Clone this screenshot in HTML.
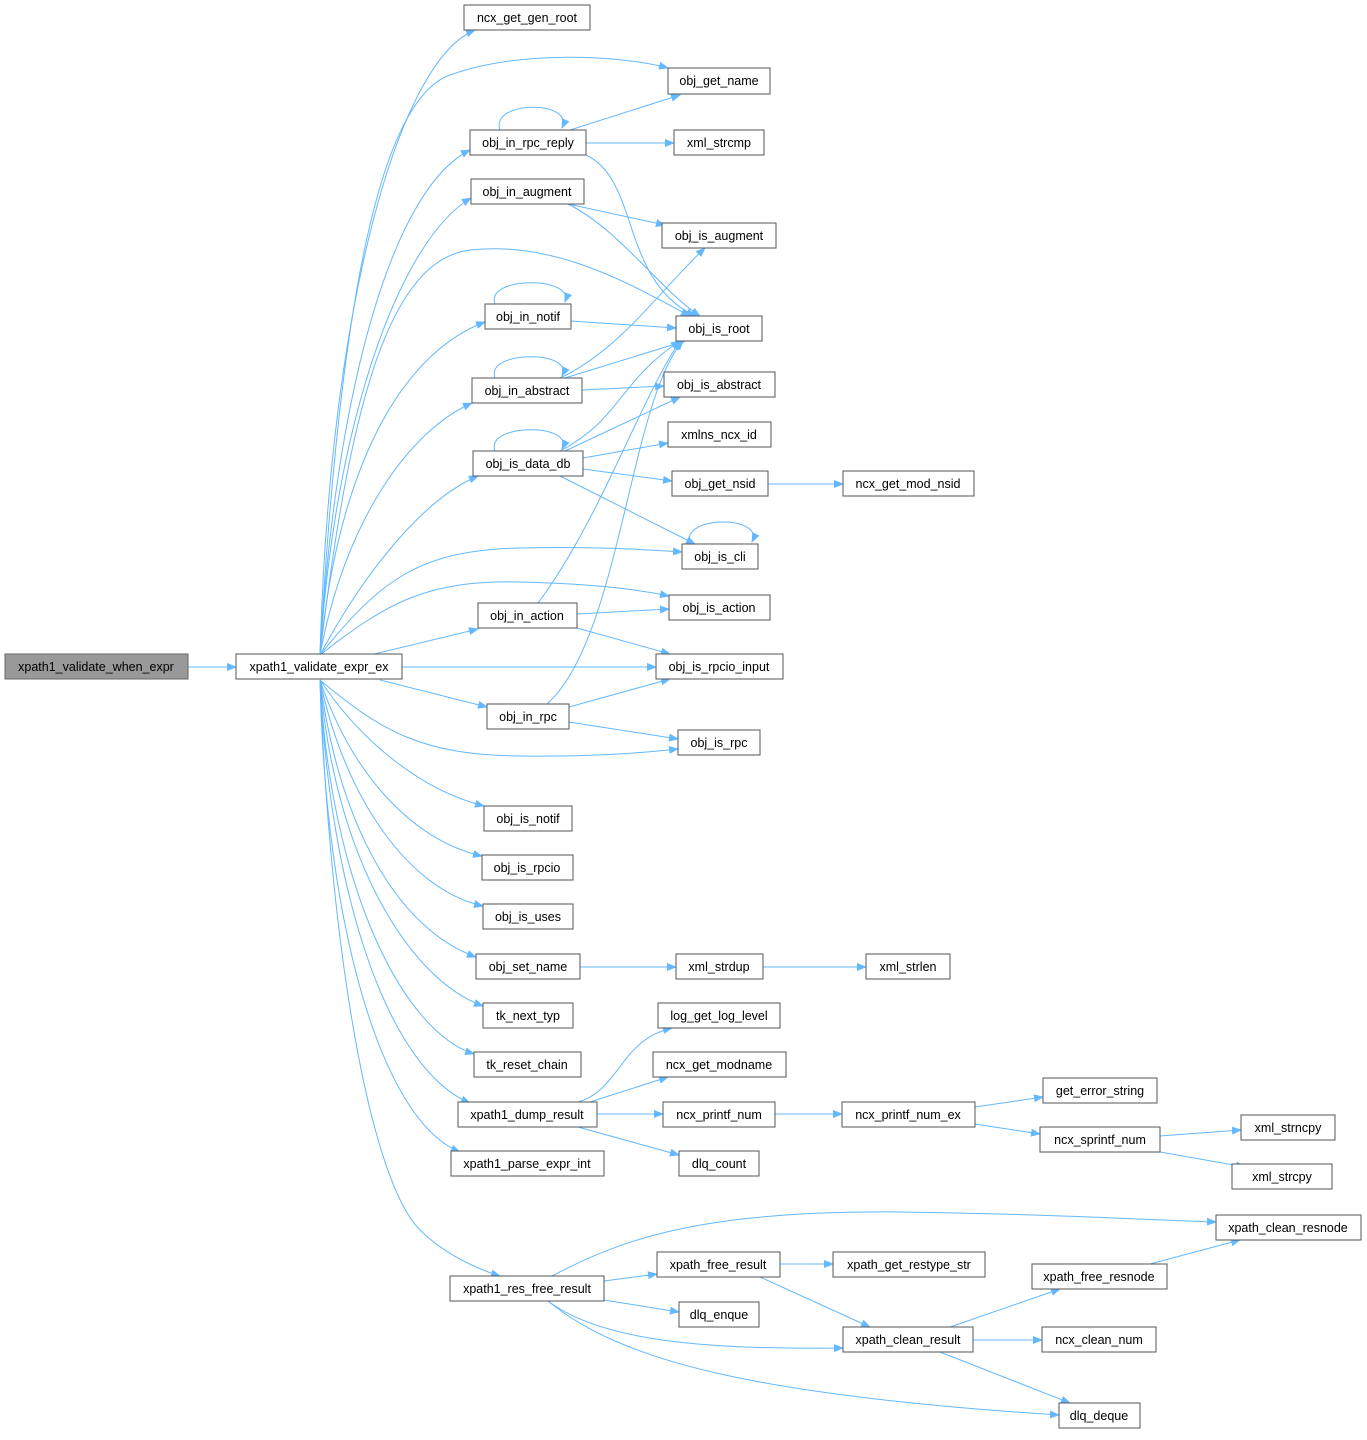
<!DOCTYPE html>
<html><head><meta charset="utf-8"><style>
html,body{margin:0;padding:0;background:#fff;}
svg text{font-family:"Liberation Sans",Arial,sans-serif;font-size:12.5px;fill:#000;text-anchor:middle;dominant-baseline:central;}
.b{fill:#fff;stroke:#555;stroke-width:1;}
.e{fill:none;stroke:#63b8ff;stroke-width:1;marker-end:url(#a);}
</style></head><body>
<svg width="1367" height="1435" viewBox="0 0 1367 1435" xmlns="http://www.w3.org/2000/svg">
<defs><marker id="a" markerWidth="10" markerHeight="8" refX="9" refY="4" orient="auto" markerUnits="userSpaceOnUse"><polygon points="0,0 10,4 0,8" fill="#63b8ff"/></marker></defs>
<g>
<path class="e" d="M188,667 L236,667"/>
<path class="e" d="M320,655 C330,300 400,60 475,30"/>
<path class="e" d="M320,655 C340,300 380,100 450,75 C520,50 620,55 668,68"/>
<path class="e" d="M320,655 C335,400 390,190 470,150"/>
<path class="e" d="M320,655 C335,420 400,240 471,198"/>
<path class="e" d="M320,655 C350,400 390,260 470,250 C560,240 640,290 690,316"/>
<path class="e" d="M320,655 C340,450 410,350 485,322"/>
<path class="e" d="M320,655 C345,520 410,430 472,403"/>
<path class="e" d="M320,655 C360,580 420,500 478,476"/>
<path class="e" d="M320,655 C380,580 420,550 520,548 C600,546 650,550 682,552"/>
<path class="e" d="M320,655 C390,600 430,580 520,582 C600,584 640,590 669,596"/>
<path class="e" d="M370,655 L478,629"/>
<path class="e" d="M402,667 L656,667"/>
<path class="e" d="M380,680 L487,707"/>
<path class="e" d="M320,680 C380,730 420,755 520,756 C600,757 650,752 678,749"/>
<path class="e" d="M320,680 C360,740 420,790 484,806"/>
<path class="e" d="M320,680 C350,770 410,840 482,856"/>
<path class="e" d="M320,680 C345,800 410,890 483,906"/>
<path class="e" d="M320,680 C340,830 400,930 476,957"/>
<path class="e" d="M320,680 C335,860 410,980 483,1006"/>
<path class="e" d="M320,680 C330,880 400,1030 474,1054"/>
<path class="e" d="M320,680 C330,900 390,1070 470,1103"/>
<path class="e" d="M320,680 C325,920 380,1120 460,1152"/>
<path class="e" d="M320,680 C330,950 370,1180 420,1230 C445,1255 480,1270 500,1276"/>
<path class="e" d="M500,130 C490,100 575,100 562,128"/>
<path class="e" d="M570,130 L680,95"/>
<path class="e" d="M586,143 L674,143"/>
<path class="e" d="M586,155 C640,180 620,280 695,316"/>
<path class="e" d="M568,204 L665,225"/>
<path class="e" d="M568,204 C620,230 660,290 700,316"/>
<path class="e" d="M495,304 C485,276 575,276 565,302"/>
<path class="e" d="M571,321 L676,328"/>
<path class="e" d="M495,378 C485,350 575,350 562,376"/>
<path class="e" d="M560,378 C620,350 660,290 705,248"/>
<path class="e" d="M565,378 L685,341"/>
<path class="e" d="M582,390 L664,386"/>
<path class="e" d="M495,451 C485,423 575,423 562,449"/>
<path class="e" d="M560,451 C620,420 620,380 680,341"/>
<path class="e" d="M565,451 L680,397"/>
<path class="e" d="M583,458 L668,443"/>
<path class="e" d="M583,469 L672,481"/>
<path class="e" d="M560,476 L695,544"/>
<path class="e" d="M768,484 L843,484"/>
<path class="e" d="M690,544 C680,515 765,515 752,542"/>
<path class="e" d="M538,603 C600,520 640,400 680,341"/>
<path class="e" d="M577,614 L669,609"/>
<path class="e" d="M577,628 L670,654"/>
<path class="e" d="M547,704 C620,640 630,400 683,341"/>
<path class="e" d="M569,707 L670,679"/>
<path class="e" d="M569,722 L678,739"/>
<path class="e" d="M580,967 L676,967"/>
<path class="e" d="M763,967 L866,967"/>
<path class="e" d="M578,1102 C620,1090 620,1040 672,1028"/>
<path class="e" d="M590,1102 L668,1077"/>
<path class="e" d="M597,1114 L663,1114"/>
<path class="e" d="M578,1127 L679,1155"/>
<path class="e" d="M775,1114 L842,1114"/>
<path class="e" d="M975,1107 L1043,1097"/>
<path class="e" d="M975,1124 L1040,1134"/>
<path class="e" d="M1160,1136 L1241,1130"/>
<path class="e" d="M1160,1152 L1245,1167"/>
<path class="e" d="M552,1276 C620,1240 700,1210 900,1212 C1050,1214 1150,1220 1216,1222"/>
<path class="e" d="M604,1281 L657,1274"/>
<path class="e" d="M604,1300 L679,1312"/>
<path class="e" d="M548,1301 C600,1340 700,1350 843,1348"/>
<path class="e" d="M548,1301 C620,1360 750,1395 1059,1415"/>
<path class="e" d="M780,1264 L833,1264"/>
<path class="e" d="M760,1277 L870,1327"/>
<path class="e" d="M950,1327 L1060,1289"/>
<path class="e" d="M973,1340 L1042,1340"/>
<path class="e" d="M940,1352 L1070,1403"/>
<path class="e" d="M1150,1264 L1240,1240"/>
</g>
<g>
<rect x="5" y="654" width="183" height="25" fill="#999" stroke="#666"/><text x="96" y="667">xpath1_validate_when_expr</text>
<rect class="b" x="236" y="654" width="166" height="25"/><text x="319" y="667">xpath1_validate_expr_ex</text>
<rect class="b" x="464" y="5" width="126" height="25"/><text x="527" y="18">ncx_get_gen_root</text>
<rect class="b" x="668" y="68" width="102" height="26"/><text x="719" y="81">obj_get_name</text>
<rect class="b" x="470" y="130" width="116" height="25"/><text x="528" y="143">obj_in_rpc_reply</text>
<rect class="b" x="674" y="130" width="90" height="25"/><text x="719" y="143">xml_strcmp</text>
<rect class="b" x="471" y="179" width="113" height="25"/><text x="527" y="192">obj_in_augment</text>
<rect class="b" x="662" y="223" width="114" height="25"/><text x="719" y="236">obj_is_augment</text>
<rect class="b" x="485" y="304" width="86" height="25"/><text x="528" y="317">obj_in_notif</text>
<rect class="b" x="676" y="316" width="86" height="25"/><text x="719" y="329">obj_is_root</text>
<rect class="b" x="472" y="378" width="110" height="25"/><text x="527" y="391">obj_in_abstract</text>
<rect class="b" x="664" y="372" width="111" height="25"/><text x="719" y="385">obj_is_abstract</text>
<rect class="b" x="668" y="422" width="103" height="25"/><text x="719" y="435">xmlns_ncx_id</text>
<rect class="b" x="473" y="451" width="110" height="25"/><text x="528" y="464">obj_is_data_db</text>
<rect class="b" x="672" y="471" width="96" height="25"/><text x="720" y="484">obj_get_nsid</text>
<rect class="b" x="843" y="471" width="131" height="25"/><text x="908" y="484">ncx_get_mod_nsid</text>
<rect class="b" x="682" y="544" width="76" height="25"/><text x="720" y="557">obj_is_cli</text>
<rect class="b" x="669" y="595" width="101" height="25"/><text x="719" y="608">obj_is_action</text>
<rect class="b" x="478" y="603" width="99" height="25"/><text x="527" y="616">obj_in_action</text>
<rect class="b" x="656" y="654" width="127" height="25"/><text x="719" y="667">obj_is_rpcio_input</text>
<rect class="b" x="487" y="704" width="82" height="25"/><text x="528" y="717">obj_in_rpc</text>
<rect class="b" x="678" y="730" width="82" height="25"/><text x="719" y="743">obj_is_rpc</text>
<rect class="b" x="484" y="806" width="88" height="25"/><text x="528" y="819">obj_is_notif</text>
<rect class="b" x="482" y="855" width="91" height="25"/><text x="527" y="868">obj_is_rpcio</text>
<rect class="b" x="483" y="904" width="90" height="25"/><text x="528" y="917">obj_is_uses</text>
<rect class="b" x="476" y="954" width="104" height="25"/><text x="528" y="967">obj_set_name</text>
<rect class="b" x="676" y="954" width="87" height="25"/><text x="719" y="967">xml_strdup</text>
<rect class="b" x="866" y="954" width="84" height="25"/><text x="908" y="967">xml_strlen</text>
<rect class="b" x="483" y="1003" width="90" height="25"/><text x="528" y="1016">tk_next_typ</text>
<rect class="b" x="658" y="1003" width="122" height="25"/><text x="719" y="1016">log_get_log_level</text>
<rect class="b" x="474" y="1052" width="107" height="25"/><text x="527" y="1065">tk_reset_chain</text>
<rect class="b" x="653" y="1052" width="133" height="25"/><text x="719" y="1065">ncx_get_modname</text>
<rect class="b" x="1043" y="1078" width="114" height="25"/><text x="1100" y="1091">get_error_string</text>
<rect class="b" x="458" y="1102" width="139" height="25"/><text x="527" y="1115">xpath1_dump_result</text>
<rect class="b" x="663" y="1102" width="112" height="25"/><text x="719" y="1115">ncx_printf_num</text>
<rect class="b" x="842" y="1102" width="133" height="25"/><text x="908" y="1115">ncx_printf_num_ex</text>
<rect class="b" x="1241" y="1115" width="94" height="25"/><text x="1288" y="1128">xml_strncpy</text>
<rect class="b" x="1040" y="1127" width="120" height="25"/><text x="1100" y="1140">ncx_sprintf_num</text>
<rect class="b" x="451" y="1151" width="153" height="25"/><text x="527" y="1164">xpath1_parse_expr_int</text>
<rect class="b" x="679" y="1151" width="80" height="25"/><text x="719" y="1164">dlq_count</text>
<rect class="b" x="1232" y="1164" width="100" height="25"/><text x="1282" y="1177">xml_strcpy</text>
<rect class="b" x="1216" y="1215" width="145" height="25"/><text x="1288" y="1228">xpath_clean_resnode</text>
<rect class="b" x="657" y="1252" width="123" height="25"/><text x="718" y="1265">xpath_free_result</text>
<rect class="b" x="833" y="1252" width="152" height="25"/><text x="909" y="1265">xpath_get_restype_str</text>
<rect class="b" x="450" y="1276" width="154" height="25"/><text x="527" y="1289">xpath1_res_free_result</text>
<rect class="b" x="1032" y="1264" width="135" height="25"/><text x="1099" y="1277">xpath_free_resnode</text>
<rect class="b" x="679" y="1302" width="80" height="25"/><text x="719" y="1315">dlq_enque</text>
<rect class="b" x="843" y="1327" width="130" height="25"/><text x="908" y="1340">xpath_clean_result</text>
<rect class="b" x="1042" y="1327" width="114" height="25"/><text x="1099" y="1340">ncx_clean_num</text>
<rect class="b" x="1059" y="1403" width="81" height="25"/><text x="1099" y="1416">dlq_deque</text>
</g>
</svg>
</body></html>
